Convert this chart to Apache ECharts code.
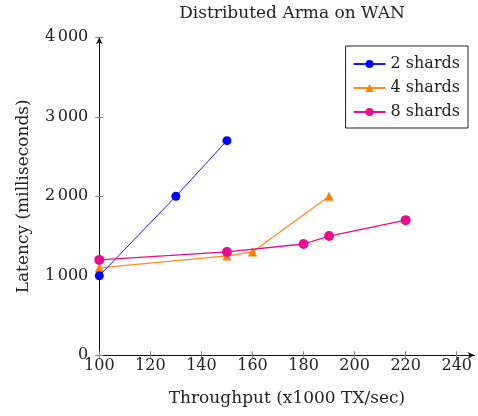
<!DOCTYPE html>
<html>
<head>
<meta charset="utf-8">
<script src="https://cdn.jsdelivr.net/npm/echarts@6/dist/echarts.min.js"></script>
<style>html,body{margin:0;padding:0;background:#fff;}#c{width:478px;height:416px;}</style>
</head>
<body>
<div id="c"></div>
<script>
const xTicks = [100, 120, 140, 160, 180, 200, 220, 240];
const shards2 = [[100, 1000], [130, 2000], [150, 2700]];
const shards4 = [[100, 1100], [150, 1250], [160, 1300], [190, 2000]];
const shards8 = [[100, 1200], [150, 1300], [180, 1400], [190, 1500], [220, 1700]];
const seriesNames = ['2 shards', '4 shards', '8 shards'];
const titleText = 'Distributed Arma on WAN';
const xTitle = 'Throughput (x1000 TX/sec)';
const yTitle = 'Latency (milliseconds)';

const FONT = 'DejaVu Serif';
const FS = 16;
const FT = 17;
const TXT = '#222';
const chart = echarts.init(document.getElementById('c'), null, {renderer: 'canvas'});
const fmtY = v => v === 0 ? '0' : String(v).replace(/\B(?=(\d{3})+(?!\d))/g, '\u2006');
const tickStyle = {color: '#888', width: 1};
chart.setOption({
  animation: false,
  backgroundColor: '#fff',
  title: {
    text: titleText, left: 292, textAlign: 'center', top: 4, padding: 0,
    textStyle: {fontFamily: FONT, fontSize: FT, fontWeight: 'normal', color: TXT, lineHeight: 19}
  },
  legend: {
    right: 10, top: 46, orient: 'vertical',
    backgroundColor: '#fff', borderColor: '#222', borderWidth: 1, borderRadius: 0,
    padding: [10, 8, 8, 7], itemGap: 8, itemWidth: 32, itemHeight: 10,
    textStyle: {fontFamily: FONT, fontSize: FS, color: TXT, lineHeight: 16},
    data: seriesNames
  },
  grid: {left: 99.3, top: 37.3, bottom: 60.7, right: 3.4, containLabel: false},
  xAxis: [{
    type: 'value', min: 100, max: 247, interval: 20,
    name: xTitle, nameLocation: 'middle', nameGap: 35,
    nameTextStyle: {fontFamily: FONT, fontSize: FT, color: TXT},
    axisLine: {show: true, onZero: false, lineStyle: {color: '#111', width: 1}, symbol: ['none', 'arrow'], symbolSize: [5, 7]},
    axisTick: {show: true, length: 4, customValues: xTicks, lineStyle: tickStyle},
    axisLabel: {customValues: xTicks, margin: 3, fontFamily: FONT, fontSize: FS, color: TXT},
    splitLine: {show: false}
  }, {
    type: 'value', min: 100, max: 247, interval: 20, position: 'bottom',
    axisLine: {show: false}, axisLabel: {show: false}, splitLine: {show: false},
    axisTick: {show: true, inside: true, length: 4, customValues: xTicks, lineStyle: tickStyle}
  }],
  yAxis: [{
    type: 'value', min: 0, max: 4000, interval: 1000,
    name: yTitle, nameLocation: 'middle', nameGap: 67, nameRotate: 90,
    nameTextStyle: {fontFamily: FONT, fontSize: FT, color: TXT},
    axisLine: {show: true, onZero: false, lineStyle: {color: '#111', width: 1}, symbol: ['none', 'arrow'], symbolSize: [5, 7]},
    axisTick: {show: true, length: 4, lineStyle: tickStyle},
    axisLabel: {margin: 11, fontFamily: FONT, fontSize: FS, color: TXT, formatter: fmtY},
    splitLine: {show: false}
  }, {
    type: 'value', min: 0, max: 4000, interval: 1000, position: 'left',
    axisLine: {show: false}, axisLabel: {show: false}, splitLine: {show: false},
    axisTick: {show: true, inside: true, length: 4, lineStyle: tickStyle}
  }],
  series: [
    {name: seriesNames[0], type: 'line', data: shards2, symbol: 'circle', symbolSize: 9,
     color: '#0000ff', lineStyle: {width: 1, color: '#1a1aff'}, itemStyle: {color: '#0000ff'}, z: 3},
    {name: seriesNames[1], type: 'line', data: shards4, symbol: 'triangle', symbolSize: 9,
     color: '#ff8000', lineStyle: {width: 1.2, color: '#ff8c1a'}, itemStyle: {color: '#ff8000'}, z: 2},
    {name: seriesNames[2], type: 'line', data: shards8, symbol: 'circle', symbolSize: 10,
     color: '#ea0a8a', lineStyle: {width: 1.3, color: '#ea0a8a'}, itemStyle: {color: '#ea0a8a'}, z: 4}
  ]
});
</script>
</body>
</html>
